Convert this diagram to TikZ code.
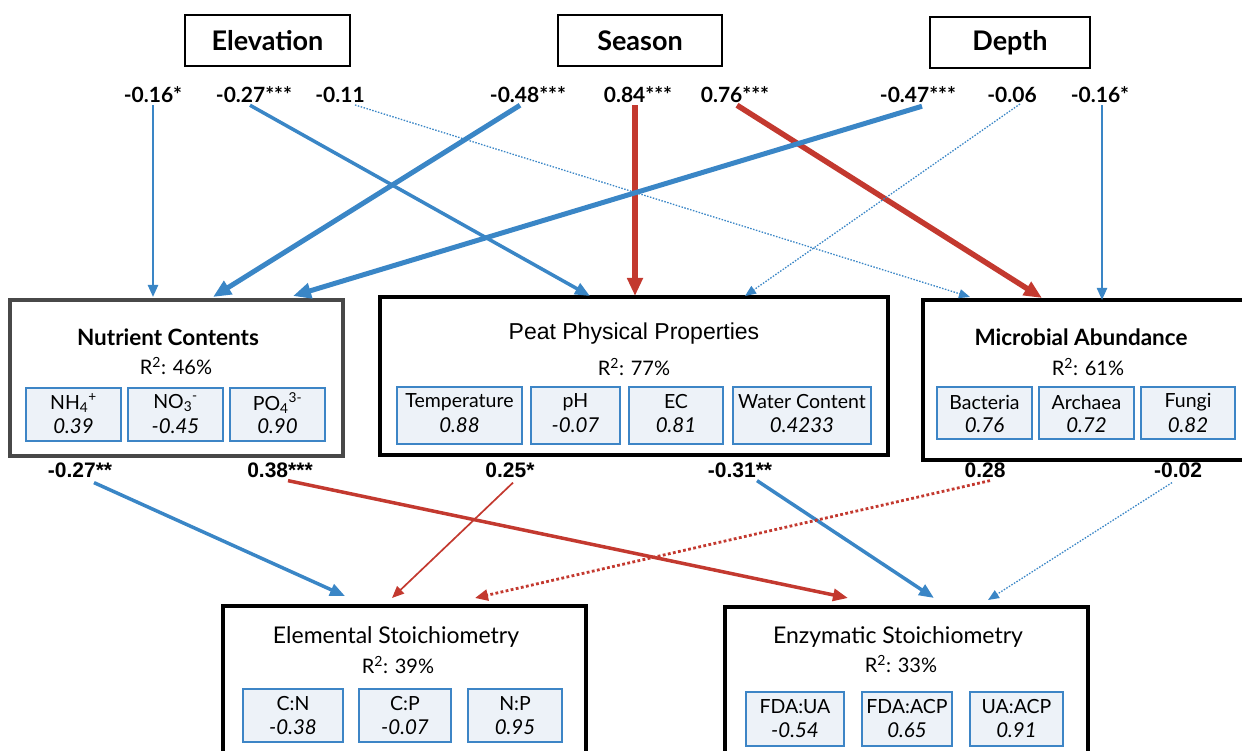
\documentclass[tikz,border=0pt]{standalone}
\usepackage{fontspec}
\setmainfont{Lato}
\newfontfamily\helv{Liberation Sans}
\usetikzlibrary{arrows.meta,calc}
\definecolor{arrblue}{HTML}{3A86C6}
\definecolor{arrred}{HTML}{C3392F}
\definecolor{subblue}{HTML}{3D85C6}
\definecolor{subfill}{HTML}{EDF2F8}
\definecolor{boxgray}{HTML}{484848}
\tikzset{
  topbox/.style={draw=black, line width=1.3pt, inner sep=0pt, minimum height=51pt, font=\fontsize{27}{30}\selectfont\bfseries},
  coef/.style={font=\fontsize{21}{24}\selectfont\bfseries, inner sep=1pt},
  coefb/.style={font=\fontsize{21}{24}\selectfont\helv\bfseries, inner sep=1pt},
  bigbox/.style={draw=black, line width=3.2pt, inner sep=0pt, fill=white},
  ttl/.style={font=\fontsize{22.5}{26}\selectfont\bfseries},
  ttlreg/.style={font=\fontsize{23}{26}\selectfont},
  rsq/.style={font=\fontsize{20}{24}\selectfont},
  subbox/.style={draw=subblue, fill=subfill, line width=1.8pt, inner sep=0pt},
  sublab/.style={font=\fontsize{19.5}{22}\selectfont, inner sep=0pt},
  subval/.style={font=\fontsize{20.5}{24}\selectfont\itshape, inner sep=0pt},
  wthick/.style={line width=5pt, -{Triangle[length=18pt,width=15pt]}},
  wmed/.style={line width=3.5pt, -{Triangle[length=15pt,width=12pt]}},
  wthin/.style={line width=2.3pt, -{Triangle[length=12pt,width=10pt]}},
  wvthin/.style={line width=1.7pt, -{Triangle[length=12pt,width=10pt]}},
  wdot/.style={line width=1.3pt, dash pattern=on 1.5pt off 1.5pt, -{Triangle[length=11pt,width=9pt]}},
  wdotred/.style={line width=2.8pt, dash pattern=on 2.8pt off 2.4pt, -{Triangle[length=13pt,width=11pt]}},
  blu/.style={draw=arrblue, color=arrblue},
  rd/.style={draw=arrred, color=arrred},
}
\newcommand{\sbx}[7]{%
  \node[subbox, minimum width={#4pt-#2pt}, minimum height={#5pt-#3pt}] (#1) at ({(#2+#4)/2},{(#3+#5)/2}) {};
  \node[sublab] at ({(#2+#4)/2},{#3+15}) {#6};
  \node[subval] at ({(#2+#4)/2},{#3+38}) {#7};
}
\begin{document}
\begin{tikzpicture}[x=1pt,y=-1pt]
\useasboundingbox (0,0) rectangle (1242,751);
\clip (0,0) rectangle (1242,751);

% top boxes
\node[topbox, minimum width=165pt] (elev) at (267.5,40.5) {Elevation};
\node[topbox, minimum width=164pt] (seas) at (640,40.5) {Season};
\node[topbox, minimum width=160pt] (dep) at (1010,42.5) {Depth};

% top coefficient labels
\node[coef] (c1) at (153,95) {-0.16*};
\node[coef] (c2) at (254,95) {-0.27***};
\node[coef] (c3) at (340,95) {-0.11};
\node[coef] (c4) at (528,95) {-0.48***};
\node[coef] (c5) at (638,95) {0.84***};
\node[coef] (c6) at (735,95) {0.76***};
\node[coef] (c7) at (918,95) {-0.47***};
\node[coef] (c8) at (1012,95) {-0.06};
\node[coef] (c9) at (1100,95) {-0.16*};

% middle boxes
\node[bigbox, draw=boxgray, minimum width=333pt, minimum height=156pt] (nc) at (176.5,378) {};
\node[ttl] at (168,337) {Nutrient Contents};
\node[rsq] at (176,366) {R\textsuperscript{2}: 46\%};
\sbx{nh}{26}{388}{121}{441}{NH\textsubscript{4}\textsuperscript{+}}{0.39}
\sbx{no}{128}{388}{223}{441}{NO\textsubscript{3}\textsuperscript{-}}{-0.45}
\sbx{po}{230}{388}{325}{441}{PO\textsubscript{4}\textsuperscript{3-}}{0.90}

\node[bigbox, minimum width=508pt, minimum height=158pt] (pp) at (634,376) {};
\node[font=\fontsize{23}{26}\selectfont\helv] at (634,334) {Peat Physical Properties};
\node[rsq] at (634,367) {R\textsuperscript{2}: 77\%};
\sbx{tmp}{397}{387}{522}{444}{Temperature}{0.88}
\sbx{ph}{531}{387}{620}{444}{pH}{-0.07}
\sbx{ec}{629}{387}{723}{444}{EC}{0.81}
\sbx{wc}{733}{387}{871}{444}{Water Content}{0.4233}

\node[bigbox, minimum width=337pt, minimum height=160pt] (ma) at (1091.5,380) {};
\node[ttl] at (1081,337) {Microbial Abundance};
\node[rsq] at (1088,367) {R\textsuperscript{2}: 61\%};
\sbx{bac}{937}{387}{1032}{439}{Bacteria}{0.76}
\sbx{arc}{1039}{387}{1134}{439}{Archaea}{0.72}
\sbx{fun}{1141}{387}{1235}{439}{Fungi}{0.82}

% lower coefficient labels
\node[coefb] (d1) at (80,470) {-0.27**};
\node[coefb] (d2) at (280,470) {0.38***};
\node[coefb] (d3) at (510,470) {0.25*};
\node[coefb] (d4) at (740,470) {-0.31**};
\node[coefb] (d5) at (985,470) {0.28};
\node[coefb] (d6) at (1178,470) {-0.02};

% bottom boxes
\node[bigbox, minimum width=363pt, minimum height=190pt] (es) at (404.5,701) {};
\node[ttlreg] at (396,637) {Elemental Stoichiometry};
\node[rsq] at (398,665) {R\textsuperscript{2}: 39\%};
\sbx{cn}{243}{689}{343}{742}{C:N}{-0.38}
\sbx{cp}{359}{689}{451}{742}{C:P}{-0.07}
\sbx{np}{468}{689}{562}{742}{N:P}{0.95}

\node[bigbox, minimum width=363pt, minimum height=190pt] (ez) at (906.5,702) {};
\node[ttlreg] at (898,637) {Enzymatic Stoichiometry};
\node[rsq] at (901,664) {R\textsuperscript{2}: 33\%};
\sbx{fu}{746}{692}{844}{746}{FDA:UA}{-0.54}
\sbx{fa}{862}{692}{952}{746}{FDA:ACP}{0.65}
\sbx{ua}{970}{692}{1063}{746}{UA:ACP}{0.91}

% arrow end points
\coordinate (e1) at (153,297);
\coordinate (e2) at (590,296);
\coordinate (e3) at (970,297);
\coordinate (e4) at (213,297);
\coordinate (e5) at (635,296);
\coordinate (e6) at (1042,298);
\coordinate (e7) at (293,296);
\coordinate (e8) at (745,296);
\coordinate (e9) at (1102,300);
\coordinate (f1) at (345,596);
\coordinate (f2) at (848,598);
\coordinate (f3) at (392,598);
\coordinate (f4) at (934,598);
\coordinate (f5) at (475,598);
\coordinate (f6) at (988,600);

% top arrows
\draw[blu, wthin] ([yshift=-1pt]c1.south) -- (e1);
\draw[blu, wmed] ([xshift=-4pt,yshift=-1pt]c2.south) -- (e2);
\draw[blu, wdot] ([xshift=15pt,yshift=-1pt]c3.south) -- (e3);
\draw[blu, wthick] ([xshift=-8pt,yshift=-1pt]c4.south) -- (e4);
\draw[rd, wthick, line width=5.5pt] ([xshift=-3pt,yshift=-1pt]c5.south) -- (e5);
\draw[rd, wthick, line width=5.5pt] ([xshift=2pt,yshift=-1pt]c6.south) -- (e6);
\draw[blu, wthick] ([xshift=4pt,yshift=-2pt]c7.south) -- (e7);
\draw[blu, wdot] ([xshift=8pt,yshift=0pt]c8.south) -- (e8);
\draw[blu, wthin] ([xshift=2pt,yshift=-1pt]c9.south) -- (e9);

% lower arrows
\draw[blu, wmed] ([xshift=14pt,yshift=-4pt]d1.south) -- (f1);
\draw[rd, wmed] ([xshift=8pt,yshift=-2pt]d2.south) -- (f2);
\draw[rd, wvthin] ([xshift=3pt,yshift=-4pt]d3.south) -- (f3);
\draw[blu, wmed] ([xshift=17pt,yshift=-2pt]d4.south) -- (f4);
\draw[rd, wdotred] ([xshift=5pt,yshift=-2pt]d5.south) -- (f5);
\draw[blu, wdot] ([xshift=-6pt,yshift=-4pt]d6.south) -- (f6);
\end{tikzpicture}
\end{document}
